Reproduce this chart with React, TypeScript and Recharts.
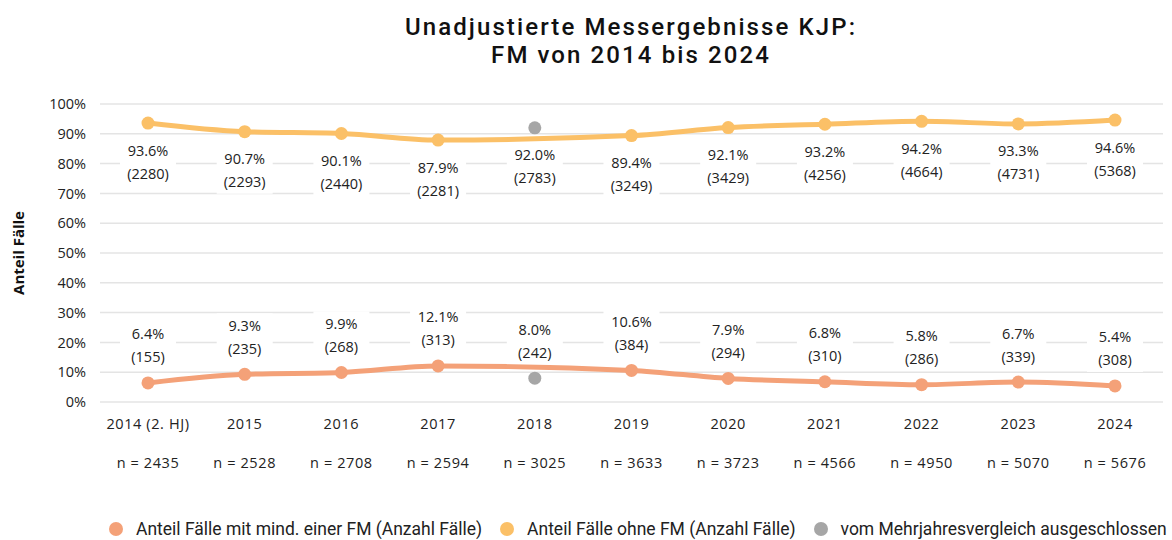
import React from 'react';
import { LineChart, Line, XAxis, YAxis, CartesianGrid, Legend, LabelList, Label } from 'recharts';

const categories = ['2014 (2. HJ)', '2015', '2016', '2017', '2018', '2019', '2020', '2021', '2022', '2023', '2024'];
const sampleSizes = [2435, 2528, 2708, 2594, 3025, 3633, 3723, 4566, 4950, 5070, 5676];
const withFmPct = [6.4, 9.3, 9.9, 12.1, 8.0, 10.6, 7.9, 6.8, 5.8, 6.7, 5.4];
const withFmCount = [155, 235, 268, 313, 242, 384, 294, 310, 286, 339, 308];
const withoutFmPct = [93.6, 90.7, 90.1, 87.9, 92.0, 89.4, 92.1, 93.2, 94.2, 93.3, 94.6];
const withoutFmCount = [2280, 2293, 2440, 2281, 2783, 3249, 3429, 4256, 4664, 4731, 5368];
const excluded = [false, false, false, false, true, false, false, false, false, false, false];
const yTicks = [0, 10, 20, 30, 40, 50, 60, 70, 80, 90, 100];
const titleLines = ['Unadjustierte Messergebnisse KJP:', 'FM von 2014 bis 2024'];

const COLOR_WITH = '#F4A178';
const COLOR_WITHOUT = '#FBC067';
const COLOR_EXCL = '#A6A6A6';
const FONT = '"Open Sans", Lato, sans-serif';

const data = categories.map((c, i) => ({
  cat: c,
  n: sampleSizes[i],
  withFm: excluded[i] ? null : withFmPct[i],
  withoutFm: excluded[i] ? null : withoutFmPct[i],
  exclWith: excluded[i] ? withFmPct[i] : null,
  exclWithout: excluded[i] ? withoutFmPct[i] : null,
  lblWith: withFmPct[i],
  lblWithout: withoutFmPct[i],
}));

const makeLabel = (counts: number[], above: boolean) => (props: any) => {
  const { x, y, value, index } = props;
  if (value == null) return null;
  const l1 = above ? y - 49 : y + 27;
  const l2 = above ? y - 26 : y + 50;
  return (
    <g key={`lbl-${above}-${index}`}>
      <rect x={x - 28} y={l1 - 12} width={56} height={l2 - l1 + 24} fill="#ffffff" />
      <text x={x} y={l1} textAnchor="middle" dominantBaseline="central" fontSize={14.5} fill="#222" fontFamily={FONT}>
        {`${Number(value).toFixed(1)}%`}
      </text>
      <text x={x} y={l2} textAnchor="middle" dominantBaseline="central" fontSize={14.5} fill="#222" fontFamily={FONT}>
        {`(${counts[index]})`}
      </text>
    </g>
  );
};

const XTick = (props: any) => {
  const { x, y, payload, index } = props;
  const style = { letterSpacing: 0.6 } as React.CSSProperties;
  return (
    <g>
      <text x={x} y={y + 19} textAnchor="middle" fontSize={14.5} fill="#222" fontFamily={FONT} style={style}>
        {payload.value}
      </text>
      <text x={x} y={y + 58} textAnchor="middle" fontSize={14.5} fill="#222" fontFamily={FONT} style={style}>
        {`n = ${sampleSizes[index]}`}
      </text>
    </g>
  );
};

const legendItems = [
  { label: 'Anteil Fälle mit mind. einer FM (Anzahl Fälle)', color: COLOR_WITH },
  { label: 'Anteil Fälle ohne FM (Anzahl Fälle)', color: COLOR_WITHOUT },
  { label: 'vom Mehrjahresvergleich ausgeschlossen', color: COLOR_EXCL },
];

const LegendContent = () => (
  <div style={{ display: 'flex', justifyContent: 'flex-start', gap: 18, fontFamily: 'Roboto, sans-serif', fontSize: 17.5, color: '#222', paddingLeft: 109 }}>
    {legendItems.map((it) => (
      <div key={it.label} style={{ display: 'flex', alignItems: 'center', gap: 13 }}>
        <span style={{ width: 14, height: 14, borderRadius: 7, background: it.color, display: 'inline-block' }} />
        <span>{it.label}</span>
      </div>
    ))}
  </div>
);

export default function App() {
  return (
    <div style={{ position: 'absolute', left: 0, top: 0, width: 1172, height: 540, background: '#fff', fontFamily: FONT }}>
      {titleLines.map((t, i) => (
        <div
          key={t}
          style={{ position: 'absolute', top: 13 + i * 28, left: 0, width: 1172, height: 28, paddingLeft: 90, boxSizing: 'border-box', textAlign: 'center', fontSize: 24, fontWeight: 500, letterSpacing: 2.1, lineHeight: '28px', color: '#111', fontFamily: 'Roboto, sans-serif', whiteSpace: 'nowrap' }}
        >
          {t}
        </div>
      ))}
      <LineChart width={1172} height={540} data={data} margin={{ top: 104, right: 9, bottom: 44, left: 30 }}>
        <CartesianGrid vertical={false} stroke="#e4e4e4" strokeWidth={1.5} />
        <XAxis
          dataKey="cat"
          axisLine={false}
          tickLine={false}
          padding={{ left: 48, right: 48 }}
          height={70}
          interval={0}
          tick={<XTick />}
        />
        <YAxis
          domain={[0, 100]}
          ticks={yTicks}
          width={70}
          axisLine={false}
          tickLine={false}
          tickSize={0}
          tickMargin={14}
          tickFormatter={(v: number) => `${v}%`}
          tick={{ fontSize: 14.5, fill: '#222', fontFamily: FONT }}
        >
          <Label
            content={({ viewBox }: any) => {
              const cy = viewBox.y + viewBox.height / 2;
              return (
                <text x={18} y={cy} transform={`rotate(-90, 18, ${cy})`} textAnchor="middle" dominantBaseline="central" fontSize={15} fontWeight={700} fill="#111" fontFamily={FONT}>
                  Anteil Fälle
                </text>
              );
            }}
          />
        </YAxis>
        <Legend verticalAlign="bottom" height={24} content={<LegendContent />} wrapperStyle={{ top: 519, left: 0, width: 1172 }} />
        <Line dataKey="lblWith" stroke="none" dot={false} activeDot={false} isAnimationActive={false} legendType="none">
          <LabelList dataKey="lblWith" content={makeLabel(withFmCount, true)} />
        </Line>
        <Line dataKey="lblWithout" stroke="none" dot={false} activeDot={false} isAnimationActive={false} legendType="none">
          <LabelList dataKey="lblWithout" content={makeLabel(withoutFmCount, false)} />
        </Line>
        <Line type="monotone" dataKey="withFm" stroke={COLOR_WITH} strokeWidth={5} connectNulls dot={{ r: 6.5, fill: COLOR_WITH, stroke: COLOR_WITH, strokeWidth: 0 }} activeDot={false} isAnimationActive={false} />
        <Line type="monotone" dataKey="withoutFm" stroke={COLOR_WITHOUT} strokeWidth={5} connectNulls dot={{ r: 6.5, fill: COLOR_WITHOUT, stroke: COLOR_WITHOUT, strokeWidth: 0 }} activeDot={false} isAnimationActive={false} />
        <Line dataKey="exclWith" stroke="none" dot={{ r: 6.5, fill: COLOR_EXCL, stroke: COLOR_EXCL, strokeWidth: 0 }} activeDot={false} isAnimationActive={false} />
        <Line dataKey="exclWithout" stroke="none" dot={{ r: 6.5, fill: COLOR_EXCL, stroke: COLOR_EXCL, strokeWidth: 0 }} activeDot={false} isAnimationActive={false} legendType="none" />
      </LineChart>
    </div>
  );
}
